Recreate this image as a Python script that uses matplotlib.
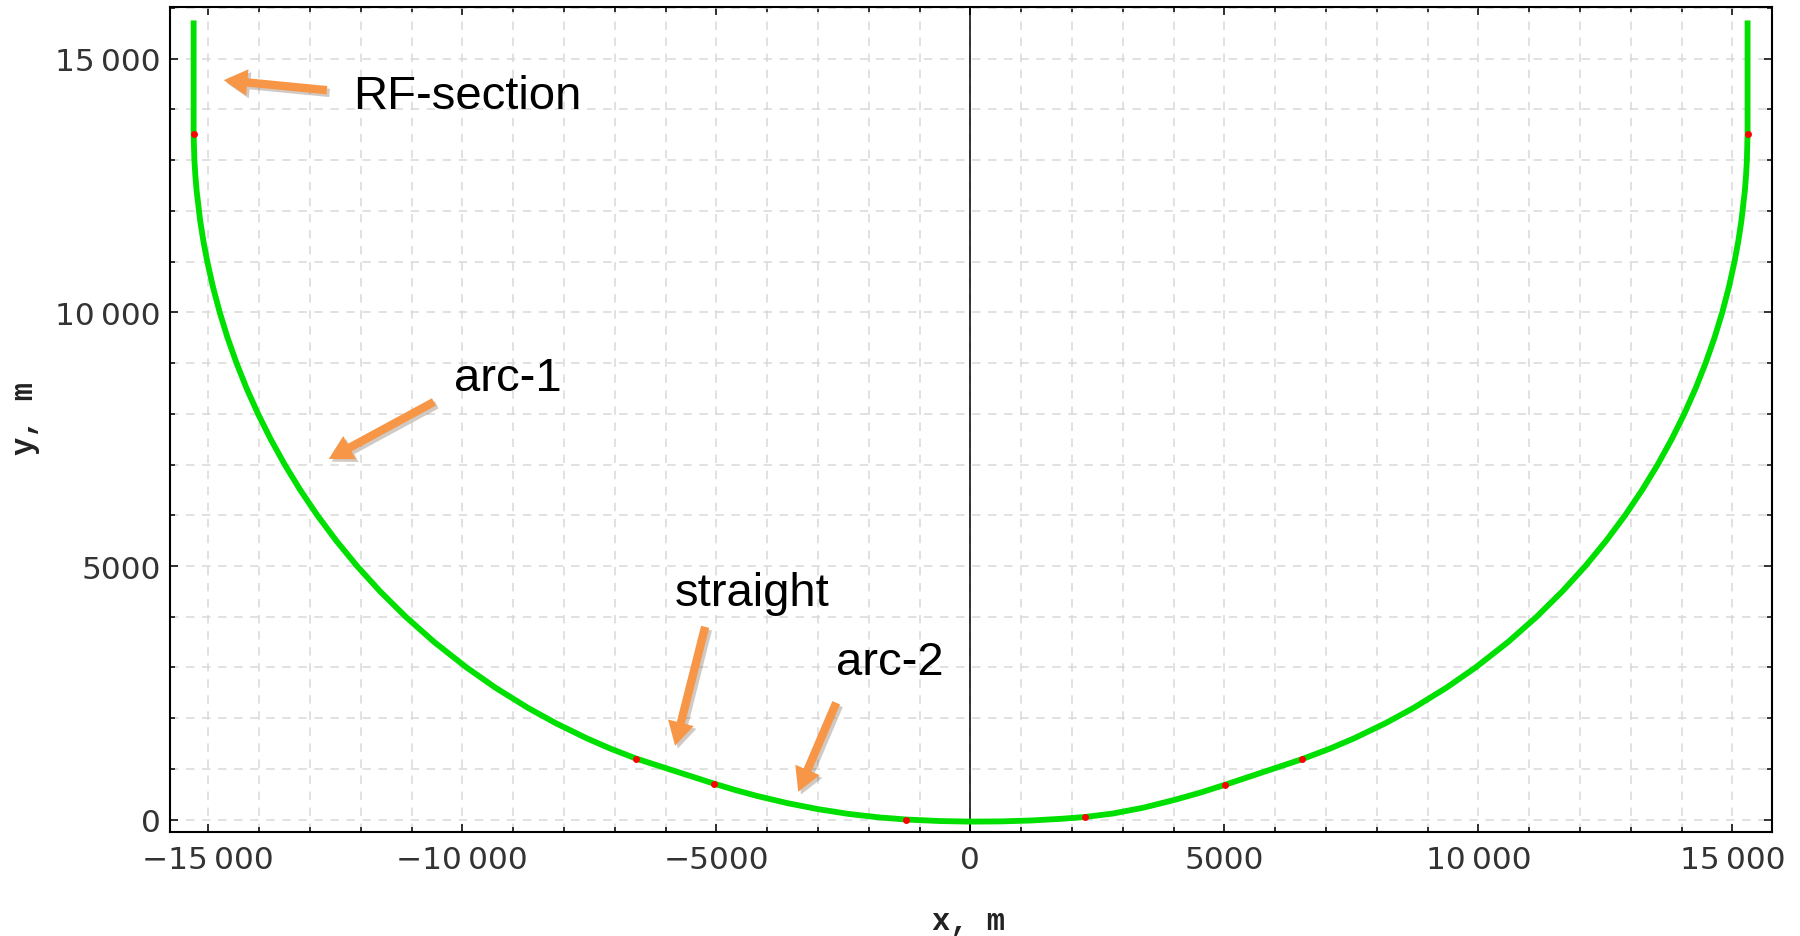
import matplotlib
matplotlib.use("Agg")
import matplotlib.pyplot as plt
from matplotlib.ticker import FixedLocator, FixedFormatter, MultipleLocator
import matplotlib.patheffects as pe

# ---- data (metres) ----
track_x = [-15289, -15289, -15274, -15255, -15230, -15159, -15096, -15020,
           -14908, -14775, -14621, -14444, -14245, -14021, -13772, -13496,
           -13191, -12854, -12482, -12072, -11618, -11114, -10551, -9916,
           -9345, -8701, -8156, -7542, -7082, -6580,
           -5050, -4600, -4200, -3600, -3000, -2400, -1800, -1260,
           -600, 0, 600, 1200, 1800, 2255,
           2800, 3400, 4000, 4500, 5020,
           6536, 7078, 7547, 8170, 8721, 9370, 9946, 10583, 11148, 11653,
           12108, 12518, 12890, 13226, 13531, 13806, 14054, 14276, 14474,
           14649, 14802, 14933, 15043, 15117, 15178, 15247, 15270, 15287,
           15300, 15300]
track_y = [15755, 13510, 13000, 12700, 12400, 11800, 11400, 11000,
           10500, 10000, 9500, 9000, 8500, 8000, 7500, 7000,
           6500, 6000, 5500, 5000, 4500, 4000, 3500, 3000,
           2600, 2200, 1900, 1600, 1400, 1205,
           712, 577, 468, 326, 208, 114, 45, 3,
           -27, -38, -34, -16, 18, 53,
           120, 235, 385, 525, 690,
           1195, 1400, 1600, 1900, 2200, 2600, 3000, 3500, 4000, 4500,
           5000, 5500, 6000, 6500, 7000, 7500, 8000, 8500, 9000,
           9500, 10000, 10500, 11000, 11400, 11800, 12400, 12700, 13000,
           13524, 15755]

marker_x = [-15289, -6580, -5050, -1260, 2255, 5020, 6536, 15300]
marker_y = [13510, 1205, 712, 3, 53, 690, 1195, 13524]

x_ticks = [-15000, -10000, -5000, 0, 5000, 10000, 15000]
x_tick_labels = ["\u221215\u2009000", "\u221210\u2009000", "\u22125000", "0",
                 "5000", "10\u2009000", "15\u2009000"]
y_ticks = [0, 5000, 10000, 15000]
y_tick_labels = ["0", "5000", "10\u2009000", "15\u2009000"]

annotation_labels = ["RF-section", "arc-1", "straight", "arc-2"]

# ---- figure ----
W, H = 1800, 937
fig = plt.figure(figsize=(18, 9.37), dpi=100)
ax = fig.add_axes([170 / W, 1 - 832.7 / H, (1772 - 170) / W, (832.7 - 7.5) / H])
ax.set_xlim(-15754, 15781)
ax.set_ylim(-237, 16030)

ax.xaxis.set_major_locator(FixedLocator(x_ticks))
ax.xaxis.set_major_formatter(FixedFormatter(x_tick_labels))
ax.yaxis.set_major_locator(FixedLocator(y_ticks))
ax.yaxis.set_major_formatter(FixedFormatter(y_tick_labels))
ax.xaxis.set_minor_locator(MultipleLocator(1000))
ax.yaxis.set_minor_locator(MultipleLocator(1000))

ax.set_axisbelow(True)
ax.grid(which="both", color="#d8d8d8", lw=1.1, ls=(0, (5.5, 5)))

for s in ax.spines.values():
    s.set_linewidth(1.5)
    s.set_color("black")

ax.tick_params(which="both", direction="in", top=True, right=True,
               width=1.1, color="black")
ax.tick_params(which="major", length=6)
ax.tick_params(which="minor", length=3.6)
ax.tick_params(axis="x", labelsize=22.5, labelcolor="#333333", pad=9.5)
ax.tick_params(axis="y", labelsize=22.5, labelcolor="#333333", pad=6.5)
for lab in ax.get_xticklabels() + ax.get_yticklabels():
    lab.set_family("DejaVu Sans")

ax.axvline(0, color="black", lw=1.1, zorder=1.5)

ax.plot(track_x, track_y, color="#00e000", lw=4.2, solid_joinstyle="round",
        solid_capstyle="butt", zorder=3)
ax.plot(marker_x, marker_y, "o", color="#ff0000", ms=5, mec="none", zorder=4)

# ---- annotations (text position, arrow tail, arrow head) ----
ann_text_pos = [(-12140, 14029), (-10173, 8461), (-5813, 4232), (-2650, 2872)]
ann_tail = [(-12667, 14381), (-10559, 8235), (-5220, 3802), (-2640, 2305)]
ann_head = [(-14696, 14578), (-12628, 7112), (-5812, 1458), (-3388, 552)]

orange = "#f79646"
for lab, tp, tl, hd in zip(annotation_labels, ann_text_pos, ann_tail, ann_head):
    ax.annotate("", xy=hd, xytext=tl,
                arrowprops=dict(arrowstyle="simple,head_length=1.7,head_width=1.9,tail_width=0.6",
                                mutation_scale=10, fc=orange, ec="none",
                                shrinkA=0, shrinkB=0,
                                path_effects=[pe.SimplePatchShadow(offset=(2, -2), alpha=0.25),
                                              pe.Normal()]),
                zorder=5)
    ax.text(tp[0], tp[1], lab, fontsize=34, family="Liberation Sans",
            ha="left", va="baseline", color="black", zorder=6)

fig.text(968 / W, 1 - 922 / H, "x, m", ha="center", va="center",
         family="Liberation Mono", weight="bold", fontsize=22, color="#222222")
fig.text(25 / W, 1 - 419 / H, "y, m", ha="center", va="center", rotation=90,
         family="Liberation Mono", weight="bold", fontsize=22, color="#222222")

fig.savefig("out.png", dpi=100)
